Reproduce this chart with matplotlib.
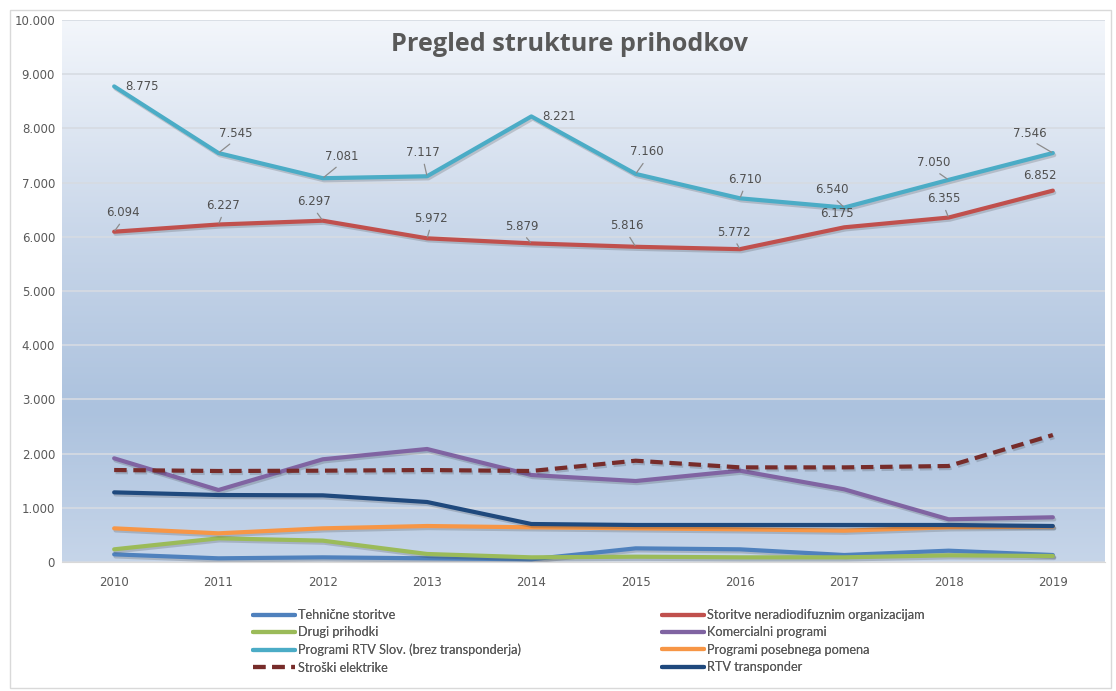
import matplotlib
matplotlib.use("Agg")
import matplotlib.pyplot as plt
import matplotlib.patheffects as pe
from matplotlib.colors import LinearSegmentedColormap
from matplotlib.patches import Rectangle
import numpy as np

years = ["2010", "2011", "2012", "2013", "2014", "2015", "2016", "2017", "2018", "2019"]

tehnicne = [141, 68, 86, 68, 50, 252, 234, 129, 209, 129]
storitve_nerad = [6094, 6227, 6297, 5972, 5879, 5816, 5772, 6175, 6355, 6852]
drugi = [234, 437, 394, 148, 86, 98, 86, 86, 123, 111]
komercialni = [1913, 1328, 1895, 2085, 1605, 1494, 1685, 1341, 788, 825]
programi_rtv = [8775, 7545, 7081, 7117, 8221, 7160, 6710, 6540, 7050, 7546]
posebnega = [621, 529, 621, 664, 640, 621, 603, 578, 640, 655]
stroski = [1697, 1679, 1685, 1697, 1679, 1869, 1746, 1746, 1771, 2343]
transponder = [1285, 1236, 1230, 1107, 701, 683, 683, 683, 683, 664]

names = {
    "teh": "Tehnične storitve",
    "stor": "Storitve neradiodifuznim organizacijam",
    "drugi": "Drugi prihodki",
    "kom": "Komercialni programi",
    "rtv": "Programi RTV Slov. (brez transponderja)",
    "pos": "Programi posebnega pomena",
    "str": "Stroški elektrike",
    "trn": "RTV transponder",
}
title = "Pregled strukture prihodkov"

# label offsets in pixels (dx, dy) and whether a leader line is drawn
rtv_off = [(28, 0), (17, 20), (19, 22), (-4, 24), (28, 0), (11, 22), (5, 19), (-12, 18), (-15, 17), (-23, 20)]
rtv_lead = [False, True, True, True, False, True, True, True, True, True]
stor_off = [(9, 19), (5, 19), (-9, 19), (4, 20), (-9, 17), (-9, 21), (-6, 17), (-7, 14), (-5, 19), (-13, 15)]
stor_lead = [True, True, True, True, True, True, True, False, True, False]

W, H = 1116, 691
fig = plt.figure(figsize=(W / 100, H / 100), dpi=100)
fig.patch.set_facecolor("white")
ax = fig.add_axes([62 / W, (H - 562) / H, (1105 - 62) / W, (562 - 20) / H])

x = np.arange(len(years))

# gradient background
cmap = LinearSegmentedColormap.from_list(
    "bg", [(0.0, "#c6d5e9"), (0.28, "#acc2de"), (0.6, "#c8d6e9"), (1.0, "#f3f6fb")])
grad = np.linspace(0, 1, 256).reshape(-1, 1)
ax.imshow(grad, cmap=cmap, origin="lower", extent=[0, 1, 0, 1], transform=ax.transAxes,
          aspect="auto", zorder=0)
ax.set_xlim(-0.5, len(years) - 0.5)
ax.set_ylim(0, 10000)

ax.set_yticks(np.arange(0, 10001, 1000))
ax.set_yticklabels([f"{v:,}".replace(",", ".") for v in range(0, 10001, 1000)])
ax.set_xticks(x)
ax.set_xticklabels(years)
ax.grid(axis="y", color="#d6dbe2", lw=1.2, zorder=1)
for s in ["top", "right", "left"]:
    ax.spines[s].set_visible(False)
ax.spines["bottom"].set_color("#d9d9d9")
ax.tick_params(length=0, labelsize=8.5, colors="#595959")
ax.tick_params(axis="x", pad=10)
ax.tick_params(axis="y", pad=5)

shadow = [pe.SimpleLineShadow(offset=(1.0, -1.5), alpha=0.18, shadow_color="#202020"), pe.Normal()]

series = [
    (tehnicne, "#4f81bd", "-", names["teh"]),
    (storitve_nerad, "#c0504d", "-", names["stor"]),
    (drugi, "#9bbb59", "-", names["drugi"]),
    (komercialni, "#8064a2", "-", names["kom"]),
    (programi_rtv, "#4bacc6", "-", names["rtv"]),
    (posebnega, "#f79646", "-", names["pos"]),
    (stroski, "#772c2a", (0, (3, 1.6)), names["str"]),
    (transponder, "#1f497d", "-", names["trn"]),
]
lines = {}
for vals, col, ls, name in series:
    ln, = ax.plot(x, vals, color=col, lw=3, ls=ls, zorder=3, label=name,
                  solid_capstyle="round", path_effects=shadow)
    lines[name] = ln


def fmt(v):
    return f"{v:,}".replace(",", ".")


def labels(vals, offs, leads):
    for xi, v, (dx, dy), lead in zip(x, vals, offs, leads):
        kw = {}
        if lead:
            kw["arrowprops"] = dict(arrowstyle="-", color="#8c8c8c", lw=0.9,
                                    shrinkA=2, shrinkB=1, relpos=(0.5, 0.0))
        ax.annotate(fmt(v), xy=(xi, v), xytext=(dx, dy), textcoords="offset pixels",
                    ha="center", va="center", fontsize=8.5, color="#505050", zorder=5, **kw)


labels(programi_rtv, rtv_off, rtv_lead)
labels(storitve_nerad, stor_off, stor_lead)

ax.text(0.487, 0.955, title, transform=ax.transAxes, ha="center", va="center",
        fontsize=18.2, fontweight="bold", color="#595959", family=["Open Sans", "DejaVu Sans"])

col1 = [names["teh"], names["drugi"], names["rtv"], names["str"]]
col2 = [names["stor"], names["kom"], names["pos"], names["trn"]]
for col, x0 in ((col1, 253), (col2, 662)):
    leg = fig.legend([lines[n] for n in col], col, ncol=1, loc="upper left",
                     bbox_to_anchor=(x0 / W, (H - 609) / H), frameon=False,
                     prop={"family": ["Lato", "DejaVu Sans"], "size": 9.2},
                     handlelength=3.3, handletextpad=0.25, labelspacing=0.42,
                     borderaxespad=0, borderpad=0)
    for t in leg.get_texts():
        t.set_color("#595959")
    for h in leg.legend_handles:
        h.set_path_effects([])
    fig.add_artist(leg)

fig.add_artist(Rectangle((10 / W, 3 / H), (1111 - 10) / W, (H - 13) / H, transform=fig.transFigure,
                         fill=False, edgecolor="#d9d9d9", lw=1))

fig.savefig("out.png", dpi=100, facecolor="white")
